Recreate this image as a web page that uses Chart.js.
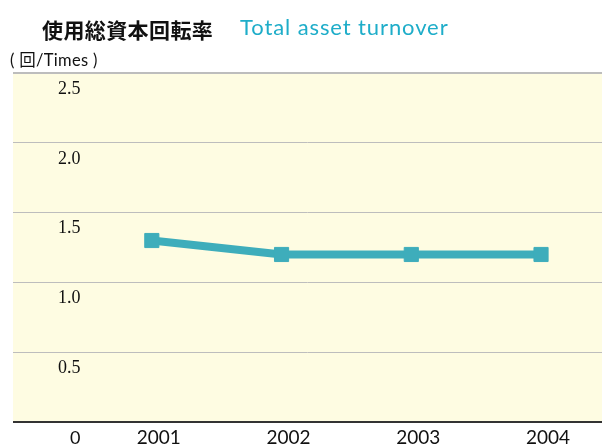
<!DOCTYPE html>
<html>
<head>
<meta charset="utf-8">
<script src="https://cdn.jsdelivr.net/npm/chart.js@4/dist/chart.umd.min.js"></script>
<style>
  body { margin: 0; background: #fff; }
  #wrap { position: relative; width: 602px; height: 444px; }
  #myChart { position: absolute; left: 0; top: 0; }
  .jp { position: absolute; left: 42px; top: 14px; font: bold 21px "Noto Sans CJK JP"; color: #111; letter-spacing: 0.4px; }
  .en { position: absolute; left: 240px; top: 13px; font: 22px Lato; color: #1eadc9; letter-spacing: 0.9px; }
  .unit { position: absolute; left: 10px; top: 47px; font: 16.5px Lato, "Noto Sans CJK JP"; color: #111; letter-spacing: 0.3px; }
</style>
</head>
<body>
<div id="wrap">
  <canvas id="myChart" width="602" height="444"></canvas>
  <div class="jp">使用総資本回転率</div>
  <div class="en">Total asset turnover</div>
  <div class="unit">( 回/Times )</div>
</div>
<script>
var years = [2001, 2002, 2003, 2004]
var turnover = [1.30, 1.20, 1.20, 1.20]
var yTicks = [0, 0.5, 1.0, 1.5, 2.0, 2.5]

// yellow plot background
var plotBg = {
  id: 'plotBg',
  beforeDraw: function(chart) {
    var a = chart.chartArea, c = chart.ctx
    c.save()
    c.fillStyle = '#fefce2'
    c.fillRect(a.left, a.top, a.right - a.left, a.bottom - a.top)
    c.restore()
  }
}

document.addEventListener("DOMContentLoaded", function(event) {

var points = []
for (var i in years) {
  points.push({ x: years[i], y: turnover[i] })
}

var ctx = document.getElementById("myChart");
var myChart = new Chart(ctx, {
  type: 'line',
  data: {
    datasets: [
      {
        data: points,
        borderColor: "#3eadbb",
        backgroundColor: "#3eadbb",
        borderWidth: 8,
        pointStyle: 'rect',
        pointRadius: 10,
        pointBorderWidth: 1,
        fill: false
      }
    ]
  },
  options: {
    responsive: false,
    animation: false,
    layout: { autoPadding: false, padding: { top: 73, left: 13, right: 0, bottom: 0 } },
    plugins: { legend: { display: false }, tooltip: { enabled: false } },
    scales: {
      x: {
        type: 'linear',
        min: 1999.93,
        max: 2004.47,
        afterBuildTicks: function(s) { s.ticks = years.map(function(v) { return { value: v } }) },
        afterFit: function(s) { s.height = 22; s.paddingLeft = 0; s.paddingRight = 0 },
        grid: { display: false, drawTicks: false },
        border: { display: false },
        ticks: {
          padding: 4,
          labelOffset: 7,
          color: '#111',
          font: { family: 'Lato', size: 19 },
          callback: function(v) { return String(v) }
        }
      },
      y: {
        min: 0,
        max: 2.5,
        afterBuildTicks: function(s) { s.ticks = yTicks.map(function(v) { return { value: v } }) },
        afterFit: function(s) { s.width = 0; s.paddingTop = 0; s.paddingBottom = 0 },
        grid: {
          drawTicks: false,
          color: function(c) { return c.tick && c.tick.value === 0 ? '#333' : '#bdbdbd' },
          lineWidth: function(c) { return c.tick && (c.tick.value === 0 || c.tick.value === 2.5) ? 2 : 1 }
        },
        border: { display: false },
        ticks: {
          mirror: true,
          crossAlign: 'far',
          padding: 45,
          labelOffset: 16,
          color: '#111',
          font: function(c) {
            return c.tick && c.tick.value === 0 ? { family: 'Lato', size: 18 } : { family: 'Liberation Serif', size: 18 }
          },
          callback: function(v) { return v === 0 ? '0' : v.toFixed(1) }
        }
      }
    }
  },
  plugins: [plotBg]
});

});
</script>
</body>
</html>
